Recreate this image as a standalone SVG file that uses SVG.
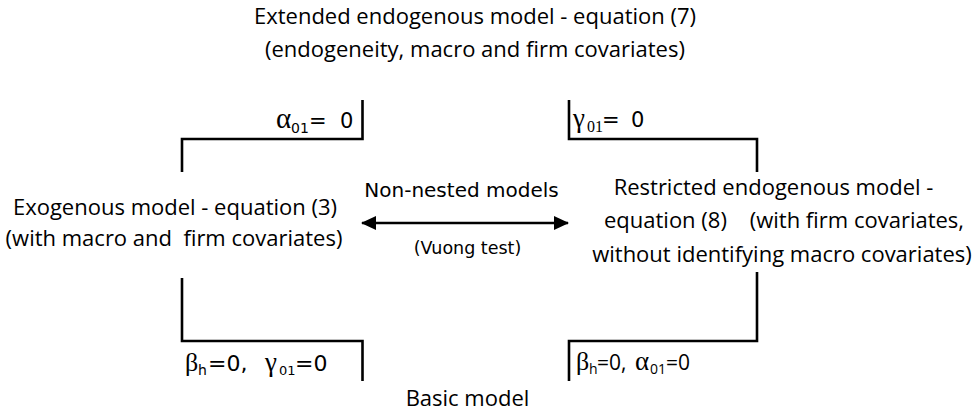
<svg xmlns="http://www.w3.org/2000/svg" width="972" height="413" viewBox="0 0 972 413">
<defs>
<style>
.t{font-family:"Open Sans","Liberation Sans",sans-serif;font-size:22px;fill:#000}
.v{font-family:"DejaVu Sans",Verdana,sans-serif;fill:#000}
.g{font-family:"Liberation Serif","Times New Roman",serif;fill:#000}
.o{font-family:"Open Sans","Liberation Sans",sans-serif;fill:#000}
.ln{stroke:#000;stroke-width:2.6;fill:none}
</style>
<marker id="ah" viewBox="0 0 15 14" refX="14" refY="7" markerWidth="15" markerHeight="14" markerUnits="userSpaceOnUse" orient="auto-start-reverse">
<path d="M0,0 L15,7 L0,14 z" fill="#000"/>
</marker>
</defs>
<rect width="972" height="413" fill="#fff"/>
<g id="top">
<text class="t" x="475" y="24" text-anchor="middle" font-size="22.8">Extended endogenous model - equation (7)</text>
<text class="t" x="475" y="57" text-anchor="middle" font-size="22.8">(endogeneity, macro and firm covariates)</text>
</g>
<g id="left">
<text class="t" x="175" y="215" text-anchor="middle">Exogenous model - equation (3)</text>
<text class="t" x="174" y="246" text-anchor="middle" xml:space="preserve">(with macro and  firm covariates)</text>
</g>
<g id="right">
<text class="t" x="773.5" y="195" text-anchor="middle">Restricted endogenous model -</text>
<text class="t" x="784" y="228" text-anchor="middle" xml:space="preserve">equation (8)    (with firm covariates,</text>
<text class="t" x="782" y="262" text-anchor="middle">without identifying macro covariates)</text>
</g>
<g id="bottom">
<text class="t" x="467.5" y="406" text-anchor="middle">Basic model</text>
</g>
<g id="connectors">
<path class="ln" d="M362.5,100 V139 H182 V172"/>
<path class="ln" d="M569,100 V139 H757 V172"/>
<path class="ln" d="M182,278 V341 H362.5 V381"/>
<path class="ln" d="M757,272 V341 H569 V381"/>
<line x1="362" y1="223" x2="568" y2="223" stroke="#000" stroke-width="2.6" marker-start="url(#ah)" marker-end="url(#ah)"/>
<text class="v" x="461.5" y="197" text-anchor="middle" font-size="20">Non-nested models</text>
<text class="v" x="467.5" y="254" text-anchor="middle" font-size="17.5">(Vuong test)</text>
<text y="128"><tspan class="g" x="276" font-size="29">α</tspan><tspan class="v" x="291" y="133" font-size="14">01</tspan><tspan class="v" x="309" y="128" font-size="21">=</tspan><tspan class="v" x="340" font-size="21">0</tspan></text>
<text y="127"><tspan class="g" x="573" font-size="27">γ</tspan><tspan class="g" x="587" y="132" font-size="16">01</tspan><tspan class="v" x="602" y="127" font-size="21">=</tspan><tspan class="v" x="631" font-size="21">0</tspan></text>
<text y="371"><tspan class="g" x="185" font-size="26">β</tspan><tspan class="v" x="198" y="375" font-size="14">h</tspan><tspan class="v" x="208" y="371" font-size="22">=0,</tspan><tspan class="g" x="265" font-size="27">γ</tspan><tspan class="v" x="279" y="375" font-size="13">01</tspan><tspan class="v" x="295" y="371" font-size="22">=0</tspan></text>
<text y="370"><tspan class="g" x="576" font-size="26">β</tspan><tspan class="o" x="589" y="374" font-size="14">h</tspan><tspan class="o" x="597" y="370" font-size="21">=0,</tspan><tspan class="g" x="635" font-size="27">α</tspan><tspan class="o" x="650" y="374" font-size="14">01</tspan><tspan class="o" x="666" y="370" font-size="21">=0</tspan></text>
</g>
</svg>
